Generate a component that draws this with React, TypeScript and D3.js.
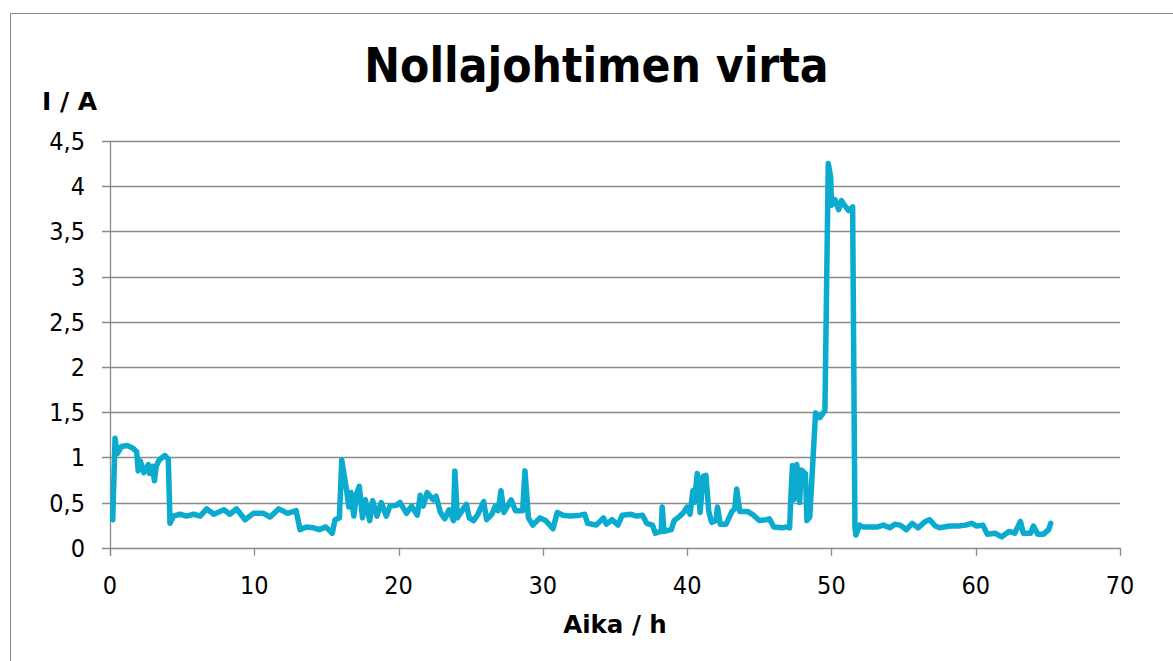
import { useEffect, useRef } from "react";
import * as d3 from "d3";

// Aika / h
const hours = [
  0.19, 0.35, 0.5, 0.8, 1.2, 1.6, 1.85, 1.95, 2.1, 2.35, 2.65, 2.75, 2.95, 3.08, 3.2, 3.4, 3.81, 4.04,
  4.16, 4.4, 4.85, 5.3, 5.8, 6.25, 6.7, 7.2, 7.9, 8.3, 8.77, 9.36, 9.94, 10.63, 11.1, 11.7, 12.3, 12.9,
  13.17, 13.6, 14.1, 14.5, 14.96, 15.4, 15.6, 15.9, 16.06, 16.4, 16.55, 16.7, 16.9, 17.1, 17.28, 17.5,
  17.7, 18.0, 18.2, 18.5, 18.8, 19.15, 19.4, 19.85, 20.1, 20.55, 20.9, 21.3, 21.5, 21.7, 21.98, 22.4,
  22.6, 22.9, 23.2, 23.5, 23.8, 23.9, 24.08, 24.4, 24.7, 24.9, 25.2, 25.5, 25.9, 26.1, 26.46, 26.7, 26.9,
  27.1, 27.3, 27.8, 28.1, 28.6, 28.76, 29.0, 29.3, 29.8, 30.2, 30.7, 31.0, 31.4, 31.9, 32.6, 32.9, 33.1,
  33.7, 34.2, 34.4, 34.8, 35.2, 35.5, 36.1, 36.5, 36.9, 37.2, 37.6, 37.8, 38.2, 38.27, 38.4, 38.9, 39.1,
  39.5, 39.8, 40.0, 40.2, 40.4, 40.5, 40.7, 40.9, 41.1, 41.3, 41.5, 41.7, 42.0, 42.1, 42.3, 42.7, 43.1,
  43.3, 43.43, 43.65, 44.2, 44.6, 45.0, 45.5, 45.7, 46.0, 46.6, 46.9, 47.1, 47.2, 47.3, 47.4, 47.6, 47.8,
  47.9, 48.2, 48.3, 48.5, 48.9, 49.2, 49.55, 49.78, 49.95, 50.0, 50.25, 50.5, 50.7, 50.9, 51.2, 51.47,
  51.63, 51.7, 51.95, 52.2, 52.9, 53.2, 53.6, 54.05, 54.4, 54.75, 55.2, 55.6, 56.0, 56.5, 56.8, 57.2,
  57.5, 58.2, 58.8, 59.3, 59.7, 60.06, 60.5, 60.8, 61.35, 61.8, 62.3, 62.7, 63.1, 63.3, 63.8, 64.0, 64.3,
  64.7, 65.05, 65.2,
];

// I / A
const current = [
  0.31, 1.21, 1.04, 1.12, 1.13, 1.1, 1.06, 0.85, 0.96, 0.83, 0.92, 0.82, 0.9, 0.74, 0.9, 0.97, 1.02, 0.98,
  0.27, 0.35, 0.37, 0.35, 0.37, 0.35, 0.43, 0.37, 0.42, 0.37, 0.43, 0.31, 0.38, 0.38, 0.34, 0.43, 0.38, 0.41,
  0.2, 0.23, 0.22, 0.2, 0.23, 0.16, 0.31, 0.33, 0.97, 0.63, 0.45, 0.61, 0.35, 0.6, 0.68, 0.33,
  0.53, 0.3, 0.52, 0.35, 0.5, 0.35, 0.46, 0.47, 0.5, 0.38, 0.46, 0.36, 0.58, 0.46, 0.61, 0.53,
  0.57, 0.39, 0.32, 0.42, 0.3, 0.85, 0.33, 0.41, 0.48, 0.33, 0.3, 0.37, 0.51, 0.31, 0.37, 0.46, 0.41,
  0.63, 0.39, 0.53, 0.41, 0.41, 0.85, 0.33, 0.25, 0.33, 0.3, 0.21, 0.39, 0.36, 0.35, 0.36, 0.37, 0.27,
  0.25, 0.33, 0.26, 0.31, 0.25, 0.36, 0.37, 0.35, 0.36, 0.27, 0.25, 0.16, 0.18, 0.45, 0.18, 0.2, 0.3,
  0.35, 0.4, 0.45, 0.37, 0.63, 0.5, 0.82, 0.39, 0.79, 0.8, 0.4, 0.28, 0.3, 0.45, 0.26, 0.26, 0.4,
  0.43, 0.65, 0.4, 0.4, 0.36, 0.3, 0.31, 0.32, 0.23, 0.22, 0.23, 0.22, 0.6, 0.91, 0.53, 0.92, 0.5,
  0.86, 0.82, 0.3, 0.34, 1.49, 1.44, 1.52, 4.25, 4.1, 3.79, 3.85, 3.74, 3.84, 3.79, 3.73, 3.77,
  0.23, 0.14, 0.25, 0.23, 0.23, 0.23, 0.25, 0.22, 0.26, 0.25, 0.2, 0.27, 0.22, 0.29, 0.31, 0.24,
  0.22, 0.24, 0.24, 0.25, 0.27, 0.24, 0.25, 0.15, 0.16, 0.12, 0.18, 0.16, 0.29, 0.16, 0.16, 0.24, 0.15,
  0.15, 0.2, 0.27,
];

const xTicks = [0, 10, 20, 30, 40, 50, 60, 70];
const yTicks = [0, 0.5, 1, 1.5, 2, 2.5, 3, 3.5, 4, 4.5];

const W = 1173;
const H = 661;
const FONT = "'DejaVu Sans Condensed', 'DejaVu Sans', sans-serif";
const FONT_WIDE = "'DejaVu Sans', sans-serif";
const GRID = "#8a8a8a";

export default function App() {
  const svgRef = useRef<SVGSVGElement>(null);

  useEffect(() => {
    if (!svgRef.current) return;
    const svg = d3.select(svgRef.current);
    svg.selectAll("*").remove();

    const x = d3.scaleLinear().domain([0, 70]).range([110, 1120]);
    const y = d3.scaleLinear().domain([0, 4.5]).range([547.7, 141]);

    // chart border
    svg
      .append("rect")
      .attr("x", 10.5)
      .attr("y", 13.5)
      .attr("width", W)
      .attr("height", H)
      .attr("fill", "#fff")
      .attr("stroke", GRID);

    // gridlines
    svg
      .append("g")
      .selectAll("line")
      .data(yTicks)
      .enter()
      .append("line")
      .attr("x1", 102)
      .attr("x2", x(70))
      .attr("y1", (d) => Math.round(y(d)) + 0.5)
      .attr("y2", (d) => Math.round(y(d)) + 0.5)
      .attr("stroke", GRID)
      .attr("stroke-width", 1.3);

    // y axis line
    svg
      .append("line")
      .attr("x1", x(0) + 0.5)
      .attr("x2", x(0) + 0.5)
      .attr("y1", y(4.5))
      .attr("y2", y(0) + 8)
      .attr("stroke", GRID)
      .attr("stroke-width", 1.3);

    // x ticks
    svg
      .append("g")
      .selectAll("line")
      .data(xTicks)
      .enter()
      .append("line")
      .attr("x1", (d) => Math.round(x(d)) + 0.5)
      .attr("x2", (d) => Math.round(x(d)) + 0.5)
      .attr("y1", y(0))
      .attr("y2", y(0) + 8)
      .attr("stroke", GRID)
      .attr("stroke-width", 1.3);

    const fmt = (d: number) => String(d).replace(".", ",");

    svg
      .append("g")
      .selectAll("text")
      .data(yTicks)
      .enter()
      .append("text")
      .attr("x", 85)
      .attr("y", (d) => y(d) + 9)
      .attr("text-anchor", "end")
      .attr("font-family", FONT)
      .attr("font-size", 25)
      .text(fmt);

    svg
      .append("g")
      .selectAll("text")
      .data(xTicks)
      .enter()
      .append("text")
      .attr("x", (d) => x(d))
      .attr("y", 594)
      .attr("text-anchor", "middle")
      .attr("font-family", FONT)
      .attr("font-size", 25)
      .text(fmt);

    // data line
    const data = hours.map((h, i) => [h, current[i]] as [number, number]);
    svg
      .append("path")
      .datum(data)
      .attr("fill", "none")
      .attr("stroke", "#0AABCF")
      .attr("stroke-width", 5.5)
      .attr("stroke-linejoin", "round")
      .attr("stroke-linecap", "round")
      .attr(
        "d",
        d3
          .line<[number, number]>()
          .x((d) => x(d[0]))
          .y((d) => y(d[1])),
      );

    // titles
    svg
      .append("text")
      .attr("x", 596.5)
      .attr("y", 82)
      .attr("text-anchor", "middle")
      .attr("font-family", FONT)
      .attr("font-weight", "bold")
      .attr("font-size", 47.5)
      .text("Nollajohtimen virta");

    svg
      .append("text")
      .attr("x", 42)
      .attr("y", 110)
      .attr("font-family", FONT_WIDE)
      .attr("font-weight", "bold")
      .attr("font-size", 25)
      .text("I / A");

    svg
      .append("text")
      .attr("x", 615)
      .attr("y", 633)
      .attr("text-anchor", "middle")
      .attr("font-family", FONT_WIDE)
      .attr("font-weight", "bold")
      .attr("font-size", 24.5)
      .text("Aika / h");
  }, []);

  return (
    <div style={{ position: "absolute", left: 0, top: 0 }}>
      <svg ref={svgRef} width={W} height={H} style={{ display: "block" }} />
    </div>
  );
}
